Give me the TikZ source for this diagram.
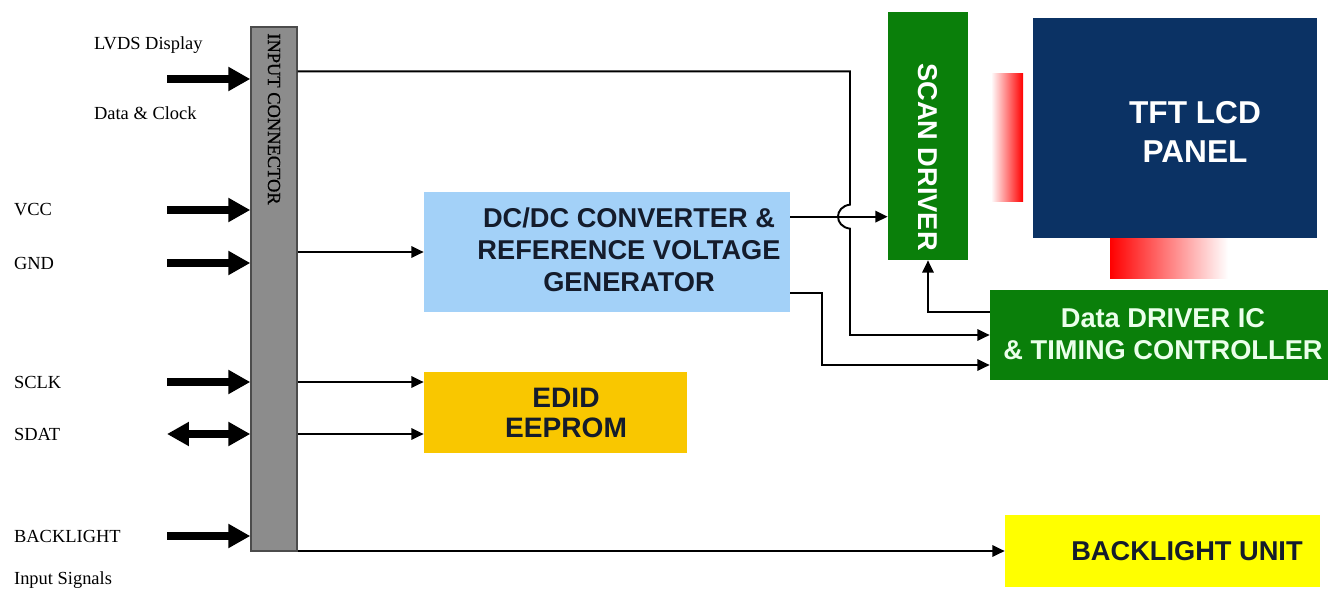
\documentclass[tikz,border=0pt]{standalone}
\usepackage{fontspec}
\setmainfont{Liberation Serif}
\setsansfont{Liberation Sans}
\newfontfamily\connfont[FakeBold=0.6]{Liberation Serif}
\usetikzlibrary{arrows.meta,calc,fit}

\definecolor{conngray}{HTML}{8C8C8C}
\definecolor{dcblue}{HTML}{A3D1F8}
\definecolor{edidgold}{HTML}{F9C700}
\definecolor{drvgreen}{HTML}{0A7F0A}
\definecolor{panelnavy}{HTML}{0B3264}
\definecolor{bluyellow}{HTML}{FFFF00}
\definecolor{darktext}{HTML}{141C2C}

\begin{document}
\begin{tikzpicture}[x=0.02cm, y=-0.02cm,
    box/.style={inner sep=0pt, draw=none},
    sig/.style={font=\fontsize{10.5}{12}\selectfont, inner sep=1pt},
    blk/.style={font=\fontsize{15.5}{18.2}\selectfont\sffamily\bfseries, align=center, inner sep=0pt},
    fat/.style={line width=4.5pt, -{Triangle[length=12.5pt,width=13pt]}},
    fatboth/.style={line width=4.5pt, {Triangle[length=12.5pt,width=13pt]}-{Triangle[length=12.5pt,width=13pt]}},
    wire/.style={line width=1.1pt, -{Triangle[length=7pt,width=6.5pt]}}]
    \useasboundingbox (0,0) rectangle (1330,589);

    % Connecteur d'entree
    \node[box, fit={(251,27) (297,551)}, fill=conngray, draw=black!70, line width=0.8pt] (conn) {};
    \node[font=\connfont\fontsize{10.5}{12}\selectfont, rotate=-90, text=black, inner sep=0pt] (conntxt) at (274,119) {INPUT CONNECTOR};

    % Signaux d'entree
    \node[sig, anchor=west] (lvdsa) at (92,45) {LVDS Display};
    \node[sig, anchor=west] (lvdsb) at (92,113) {Data \& Clock};
    \node[sig, anchor=west] (vcc) at (12,210) {VCC};
    \node[sig, anchor=west] (gnd) at (12,263) {GND};
    \node[sig, anchor=west] (sclk) at (12,382) {SCLK};
    \node[sig, anchor=west] (sdat) at (12,434) {SDAT};
    \node[sig, anchor=west] (bklt) at (12,536) {BACKLIGHT};
    \node[sig, anchor=west] (insig) at (12,580) {Input Signals};

    \coordinate (tail) at (167,0);
    \coordinate (lvdsin) at (167,79);
    \draw[fat] (lvdsin) -- (conn.west |- lvdsin);
    \draw[fat] (tail |- vcc) -- (conn.west |- vcc);
    \draw[fat] (tail |- gnd) -- (conn.west |- gnd);
    \draw[fat] (tail |- sclk) -- (conn.west |- sclk);
    \draw[fatboth] (tail |- sdat) -- (conn.west |- sdat);
    \draw[fat] (tail |- bklt) -- (conn.west |- bklt);

    % Blocs
    \node[box, fit={(424,192) (790,312)}, fill=dcblue] (dcdc) {};
    \node[blk, text=darktext] (dctxt) at (629,250) {DC/DC CONVERTER \&\\REFERENCE VOLTAGE\\GENERATOR};

    \node[box, fit={(424,372) (687,453)}, fill=edidgold] (edid) {};
    \node[blk, font=\fontsize{16}{17}\selectfont\sffamily\bfseries, text=darktext] (edidtxt) at (566,413) {EDID\\EEPROM};

    \node[box, fit={(888,12) (968,260)}, fill=drvgreen] (scan) {};
    \node[blk, rotate=-90, text=white] (scantxt) at (928,157) {SCAN DRIVER};

    \node[box, fit={(992,73) (1023,201)}, left color=red!3, right color=red] (lgate) {};
    \node[box, fit={(1110,238) (1228,278)}, left color=red, right color=white] (sgate) {};
    \node[box, fit={(1033,18) (1317,238)}, fill=panelnavy] (panel) {};
    \node[blk, font=\fontsize{18}{22.7}\selectfont\sffamily\bfseries, text=white] (paneltxt) at (1195,132) {TFT LCD\\PANEL};

    \node[box, fit={(990,290) (1328,380)}, fill=drvgreen] (ddrv) {};
    \node[blk, text=green!8!white] (ddtxt) at (1163,334) {Data DRIVER IC\\\& TIMING CONTROLLER};

    \node[box, fit={(1005,515) (1320,587)}, fill=bluyellow] (blu) {};
    \node[blk, text=darktext] (blutxt) at (1187,551) {BACKLIGHT UNIT};

    % Liaisons
    \coordinate (busa) at (850,0);
    \coordinate (busb) at (822,0);
    \coordinate (lvdsout) at ($(conn.north east)+(0,45)$);
    \coordinate (dcout) at ($(dcdc.north east)+(0,25)$);
    \draw[wire] (lvdsout) -| ($(busa |- dcout)+(0,-12)$)
        .. controls +(-16,2) and +(-16,-2) .. ($(busa |- dcout)+(0,12)$) |- (ddrv.west);
    \draw[wire] (dcout) -- (scan.west |- dcout);
    \draw[wire] ($(dcdc.south east)+(0,-19)$) -| ($(busb |- ddrv.west)+(0,30)$) -- ($(ddrv.west)+(0,30)$);
    \draw[wire] ($(ddrv.north west)+(0,22)$) -| (scan.south);
    \draw[wire] (conn.east |- dcdc.west) -- (dcdc.west);
    \draw[wire] (conn.east |- sclk) -- (edid.west |- sclk);
    \draw[wire] (conn.east |- sdat) -- (edid.west |- sdat);
    \draw[wire] (conn.east |- blu.west) -- (blu.west);
\end{tikzpicture}
\end{document}
